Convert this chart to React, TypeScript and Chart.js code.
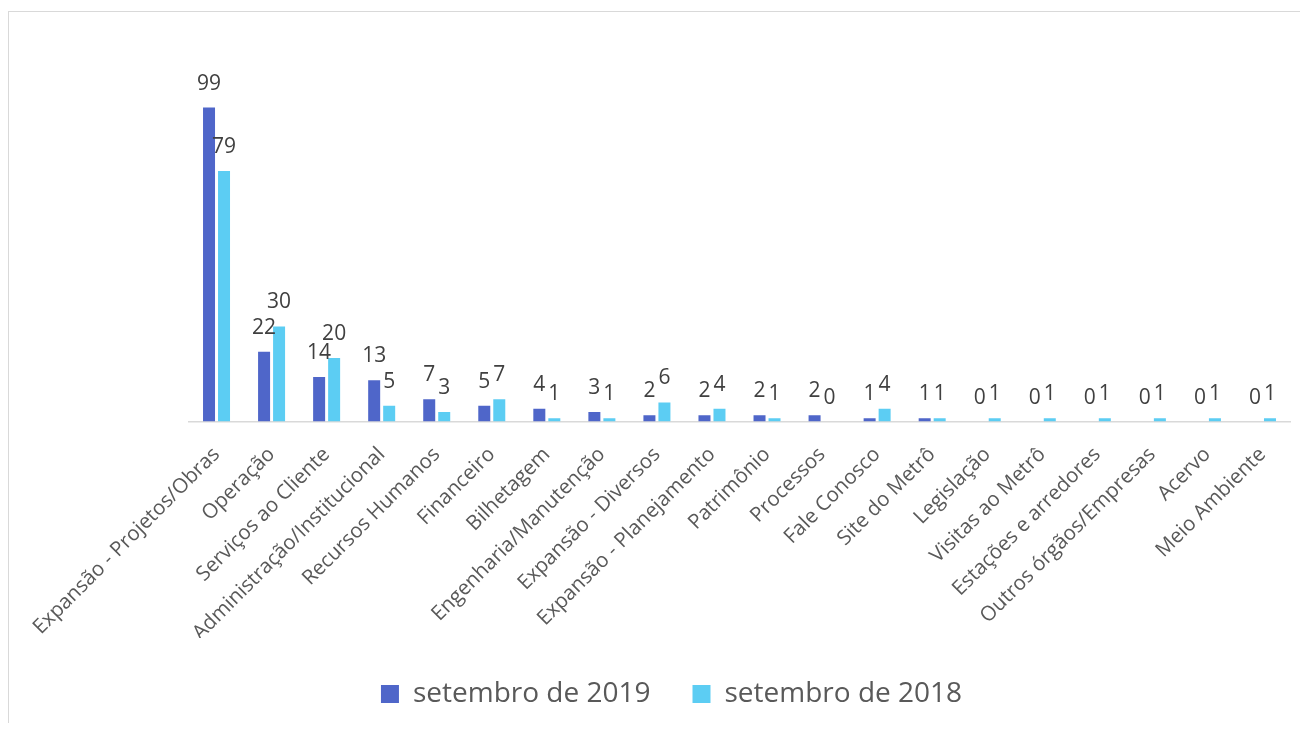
import React, { useEffect, useRef } from 'react';
import { Chart, registerables } from 'chart.js';

Chart.register(...registerables);

const categories = [
  'Expansão - Projetos/Obras',
  'Operação',
  'Serviços ao Cliente',
  'Administração/Institucional',
  'Recursos Humanos',
  'Financeiro',
  'Bilhetagem',
  'Engenharia/Manutenção',
  'Expansão - Diversos',
  'Expansão - Planejamento',
  'Patrimônio',
  'Processos',
  'Fale Conosco',
  'Site do Metrô',
  'Legislação',
  'Visitas ao Metrô',
  'Estações e arredores',
  'Outros órgãos/Empresas',
  'Acervo',
  'Meio Ambiente',
];

const series2019 = [99, 22, 14, 13, 7, 5, 4, 3, 2, 2, 2, 2, 1, 1, 0, 0, 0, 0, 0, 0];
const series2018 = [79, 30, 20, 5, 3, 7, 1, 1, 6, 4, 1, 0, 4, 1, 1, 1, 1, 1, 1, 1];
const seriesNames = ['setembro de 2019', 'setembro de 2018'];
const seriesColors = ['#4F66C9', '#5CCDF3'];
const yMax = 120;

const FONT = "'Open Sans', 'Noto Sans', sans-serif";

const valueLabels = {
  id: 'valueLabels',
  afterDatasetsDraw(chart: any) {
    const ctx = chart.ctx;
    ctx.save();
    ctx.font = `21px ${FONT}`;
    ctx.fillStyle = '#404040';
    ctx.textAlign = 'center';
    ctx.textBaseline = 'alphabetic';
    chart.data.datasets.forEach((ds: any, i: number) => {
      const meta = chart.getDatasetMeta(i);
      meta.data.forEach((el: any, j: number) => {
        ctx.fillText(String(ds.data[j]), el.x, el.y - 18);
      });
    });
    ctx.restore();
  },
};

export default function App() {
  const ref = useRef<HTMLCanvasElement | null>(null);

  useEffect(() => {
    document.body.style.overflow = 'hidden';
    if (!ref.current) return;
    const chart = new Chart(ref.current, {
      type: 'bar',
      data: {
        labels: categories,
        datasets: [
          {
            label: seriesNames[0],
            data: series2019,
            backgroundColor: seriesColors[0],
            borderWidth: 0,
            categoryPercentage: 0.545,
            barPercentage: 0.8,
          },
          {
            label: seriesNames[1],
            data: series2018,
            backgroundColor: seriesColors[1],
            borderWidth: 0,
            categoryPercentage: 0.545,
            barPercentage: 0.8,
          },
        ],
      },
      options: {
        responsive: false,
        animation: false,
        devicePixelRatio: 1,
        layout: { padding: { top: 29, left: 26, right: 0, bottom: 5 } },
        plugins: {
          tooltip: { enabled: false },
          legend: {
            position: 'bottom',
            align: 'center',
            labels: {
              color: '#595959',
              font: { family: FONT, size: 28 },
              boxWidth: 18,
              boxHeight: 18,
              padding: 42,
            },
          },
        },
        scales: {
          x: {
            grid: { display: false, drawTicks: false },
            border: { display: true, color: '#d9d9d9', width: 1.5 },
            ticks: {
              color: '#595959',
              font: { family: FONT, size: 20.5 },
              minRotation: 45,
              maxRotation: 45,
              autoSkip: false,
              padding: 21,
            },
            afterFit: (scale: any) => {
              scale.paddingLeft = 180;
              scale.paddingRight = 18;
              scale.height = 216.5;
            },
          },
          y: {
            display: false,
            min: 0,
            max: yMax,
          },
        },
      },
      plugins: [valueLabels],
    });
    return () => chart.destroy();
  }, []);

  return (
    <div
      style={{
        marginTop: 3,
        width: 1300,
        height: 712,
        boxSizing: 'border-box',
        borderTop: '1px solid #d9d9d9',
        borderLeft: '1px solid #d9d9d9',
        background: '#ffffff',
      }}
    >
      <canvas ref={ref} width={1299} height={711} style={{ display: 'block' }} />
    </div>
  );
}
